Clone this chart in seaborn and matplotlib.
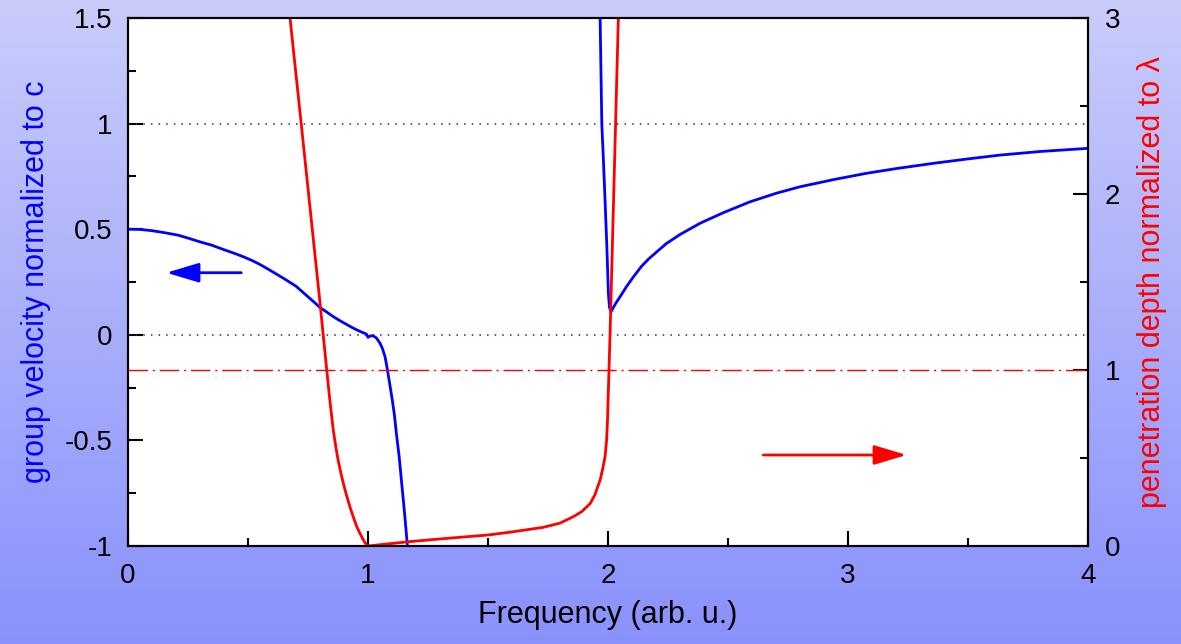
# group velocity and penetration depth vs frequency, two y axes

import numpy as np
import seaborn as sns
import matplotlib.pyplot as plt
from matplotlib.ticker import MultipleLocator

sns.set_style("ticks")
plt.rcParams['font.family'] = ['Liberation Sans', 'DejaVu Sans']
plt.rcParams['axes.unicode_minus'] = False
plt.rcParams['text.color'] = 'black'
plt.rcParams['axes.labelcolor'] = 'black'
plt.rcParams['xtick.color'] = 'black'
plt.rcParams['ytick.color'] = 'black'

# group velocity (left axis), two branches
vg_low_x = [0, 0.05, 0.1, 0.15, 0.208, 0.25, 0.3, 0.347, 0.4, 0.45, 0.486, 0.52, 0.55, 0.6,
            0.625, 0.65, 0.7, 0.75, 0.775, 0.799, 0.825, 0.85, 0.875, 0.903, 0.925, 0.95,
            0.975, 0.993, 1.0, 1.008, 1.02, 1.035, 1.05, 1.06, 1.071, 1.081, 1.09, 1.1,
            1.11, 1.118, 1.13, 1.14, 1.147, 1.155, 1.164]
vg_low_y = [0.5, 0.499, 0.493, 0.484, 0.472, 0.458, 0.44, 0.425, 0.403, 0.383, 0.367, 0.35,
            0.333, 0.30, 0.283, 0.266, 0.23, 0.18, 0.155, 0.13, 0.11, 0.09, 0.072, 0.054,
            0.04, 0.025, 0.012, 0.004, -0.012, -0.006, -0.004, -0.015, -0.04, -0.065,
            -0.104, -0.167, -0.23, -0.30, -0.38, -0.466, -0.58, -0.70, -0.782, -0.88, -1.0]
vg_high_x = [1.967, 1.974, 1.981, 1.9875, 1.995, 2.0014, 2.006, 2.0125, 2.02, 2.03, 2.04,
             2.05, 2.075, 2.106, 2.14, 2.17, 2.2, 2.244, 2.3, 2.383, 2.48, 2.592, 2.7, 2.8,
             2.94, 3.078, 3.2, 3.356, 3.5, 3.633, 3.8, 4.0]
vg_high_y = [1.5, 1.0, 0.82, 0.638, 0.42, 0.196, 0.13, 0.109, 0.125, 0.145, 0.163, 0.18,
             0.225, 0.275, 0.325, 0.36, 0.39, 0.433, 0.475, 0.528, 0.578, 0.630, 0.67,
             0.701, 0.735, 0.765, 0.787, 0.812, 0.833, 0.851, 0.868, 0.883]

# penetration depth (right axis), two branches
pd_low_x = [0.675, 0.72, 0.76, 0.8, 0.828, 0.84, 0.855, 0.865, 0.875, 0.886, 0.897, 0.91,
            0.925, 0.94, 0.953, 0.967, 0.98, 0.99, 1.0]
pd_low_y = [3.0, 2.42, 1.9, 1.38, 1.0, 0.84, 0.66, 0.57, 0.49, 0.42, 0.356, 0.29, 0.22,
            0.16, 0.11, 0.07, 0.035, 0.014, 0.0]
pd_high_x = [1.0, 1.168, 1.3, 1.5, 1.6, 1.73, 1.8, 1.856, 1.89, 1.925, 1.945, 1.967, 1.978,
             1.9875, 1.994, 1.998, 2.0, 2.004, 2.0083, 2.043]
pd_high_y = [0.0, 0.024, 0.04, 0.0625, 0.08, 0.106, 0.13, 0.167, 0.195, 0.24, 0.29, 0.375,
             0.44, 0.507, 0.60, 0.72, 0.82, 1.0, 1.2, 3.0]

x_ticks = [0, 1, 2, 3, 4]
left_ticks = [-1, -0.5, 0, 0.5, 1, 1.5]
left_labels = ['-1', '-0.5', '0', '0.5', '1', '1.5']
right_ticks = [0, 1, 2, 3]

fig = plt.figure(figsize=(11.81, 6.44), dpi=100)

# background gradient
bg = fig.add_axes([0, 0, 1, 1])
grad = np.linspace(0, 1, 256).reshape(-1, 1)
top = np.array([0.79, 0.80, 0.98])
bot = np.array([0.54, 0.57, 0.99])
img = top[None, None, :] * (1 - grad[:, :, None]) + bot[None, None, :] * grad[:, :, None]
bg.imshow(img, aspect='auto', extent=[0, 1, 0, 1])
bg.axis('off')

ax = fig.add_axes([0.1084, 0.1522, 0.8129, 0.8198])
ax.set_facecolor('white')
ax2 = ax.twinx()

blue = '#0000ff'
red = '#ff0000'

sns.lineplot(x=vg_low_x, y=vg_low_y, ax=ax, color=blue, lw=2, sort=False, estimator=None)
sns.lineplot(x=vg_high_x, y=vg_high_y, ax=ax, color=blue, lw=2, sort=False, estimator=None)
sns.lineplot(x=pd_low_x, y=pd_low_y, ax=ax2, color=red, lw=2, sort=False, estimator=None)
sns.lineplot(x=pd_high_x, y=pd_high_y, ax=ax2, color=red, lw=2, sort=False, estimator=None)

ax.axhline(1, color='#2020b8', lw=1.1, ls=(0, (1, 4)), zorder=1)
ax.axhline(0, color='#2020b8', lw=1.1, ls=(0, (1, 4)), zorder=1)
ax2.axhline(1, color=red, lw=1, ls=(0, (14, 3.5, 1.5, 3.5)), zorder=1)

# arrows pointing to each axis
ax.annotate('', xy=(0.16, 0.294), xytext=(0.472, 0.294),
            arrowprops=dict(arrowstyle='-|>,head_length=1.0,head_width=0.3', color=blue,
                            lw=2, shrinkA=0, shrinkB=0, mutation_scale=20))
ax2.annotate('', xy=(3.244, 0.517), xytext=(2.647, 0.517),
             arrowprops=dict(arrowstyle='-|>,head_length=1.0,head_width=0.3', color=red,
                             lw=2, shrinkA=0, shrinkB=0, mutation_scale=20))

ax.set_xlim(0, 4)
ax.set_ylim(-1, 1.5)
ax2.set_ylim(0, 3)

ax.set_xticks(x_ticks)
ax.set_xticklabels([str(t) for t in x_ticks])
ax.set_yticks(left_ticks)
ax.set_yticklabels(left_labels)
ax2.set_yticks(right_ticks)
ax2.set_yticklabels([str(t) for t in right_ticks])
ax.xaxis.set_minor_locator(MultipleLocator(0.5))
ax.yaxis.set_minor_locator(MultipleLocator(0.25))
ax2.yaxis.set_minor_locator(MultipleLocator(0.5))

ax.tick_params(which='both', direction='in', top=False, right=False, width=1.5,
               labelsize=20, colors='black')
ax.tick_params(which='major', length=11)
ax.tick_params(which='minor', length=6)
ax.tick_params(axis='y', pad=11)
ax.tick_params(axis='x', pad=12)
ax2.tick_params(which='both', direction='in', width=1.5, labelsize=20, colors='black')
ax2.tick_params(which='major', length=11, pad=12)
ax2.tick_params(which='minor', length=6)

for a in (ax, ax2):
    for s in a.spines.values():
        s.set_color('black')
        s.set_linewidth(1.5)

ax.set_xlabel('Frequency (arb. u.)', fontsize=22, labelpad=8, color='black')
ax.set_ylabel('group velocity normalized to c', fontsize=22, color=blue, labelpad=10)
ax2.set_ylabel('penetration depth normalized to λ', fontsize=22, color=red, labelpad=12)

fig.savefig('out.png', dpi=100)
